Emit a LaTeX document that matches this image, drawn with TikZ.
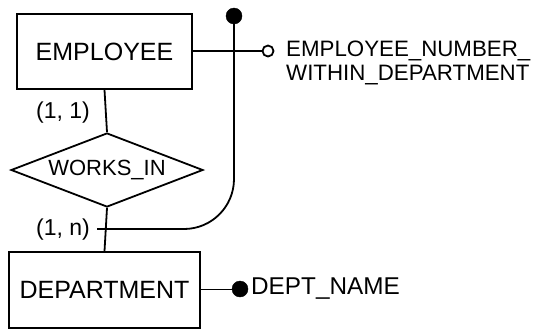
\documentclass[tikz,border=0pt]{standalone}
\usepackage{fontspec}
\setmainfont{Liberation Sans}
\usetikzlibrary{shapes.geometric}
\tikzset{
  entity/.style={draw, line width=1.8pt, inner sep=0pt, font=\fontsize{25}{28}\selectfont},
  relation/.style={draw, diamond, aspect=2.6, line width=1.8pt, inner sep=0pt, font=\fontsize{22}{26}\selectfont},
  card/.style={inner sep=0pt, font=\fontsize{23}{26}\selectfont},
  attr/.style={inner sep=0pt, anchor=west, align=left, font=\fontsize{22.3}{24}\selectfont},
  conn/.style={line width=1.8pt},
  thin/.style={line width=1pt},
  keydot/.style={circle, fill=black, draw=black, inner sep=0pt, minimum size=16pt},
  opendot/.style={circle, draw=black, fill=white, line width=1.8pt, inner sep=0pt, minimum size=11pt}
}
\begin{document}
\begin{tikzpicture}[x=1pt,y=-1pt]
\useasboundingbox (0,0) rectangle (535,330);
\node[entity, minimum width=175pt, minimum height=75pt] (emp) at (104.5,51.5) {EMPLOYEE};
\node[relation, minimum width=192pt, minimum height=74pt] (rel) at (107,170) {WORKS\_IN};
\node[entity, minimum width=191pt, minimum height=76pt] (dept) at (104.5,290) {DEPARTMENT};
\node[card, anchor=east] (c11) at (90,113) {(1, 1)};
\node[card, anchor=east] (c1n) at (90,230) {(1, n)};
\draw[conn] (emp.south) -- (rel.north);
\draw[conn] (rel.south) -- (dept.north);
% identifier attribute
\node[opendot] (od) at (268,51) {};
\node[keydot] (kd) at (234,16) {};
\coordinate (jn) at (97,229);
\draw[conn] (emp.east |- od) -- (od.west);
\draw[conn, rounded corners=50pt] (kd.center) -- (234,229) -- (jn);
\node[attr] (enum) at (286,63) {EMPLOYEE\_NUMBER\_\\WITHIN\_DEPARTMENT};
% dept name
\node[keydot] (dd) at (240,289) {};
\draw[thin] (dept.east |- dd) -- (dd.center);
\node[attr, font=\fontsize{24.3}{26}\selectfont] (dn) at (251,289) {DEPT\_NAME};
\end{tikzpicture}
\end{document}
